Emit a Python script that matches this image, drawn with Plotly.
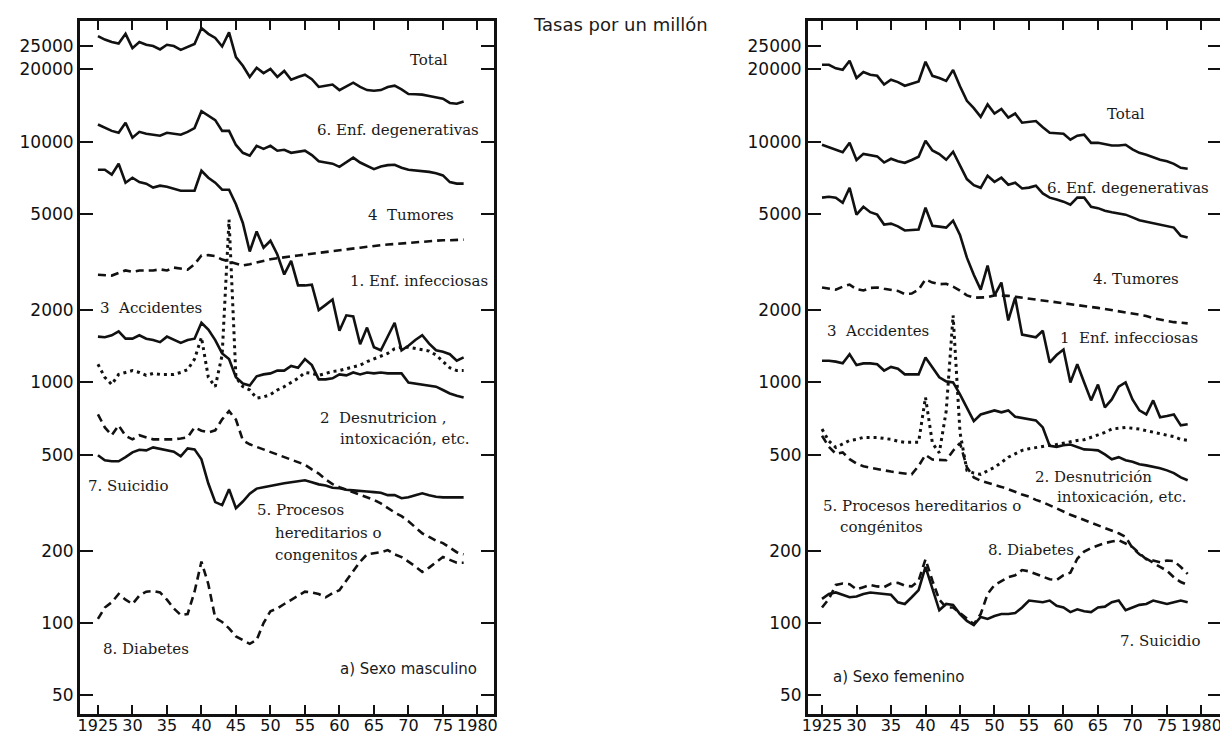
import plotly.graph_objects as go

W, H = 1228, 733

years = list(range(1925, 1979))

# ---------------- a) Sexo masculino ----------------
tot_m = [27500, 26600, 26000, 25600, 28100, 24500, 26000, 25300, 25000, 24200,
         25300, 25000, 24100, 24800, 25500, 29700, 28100, 27000, 24900, 28500,
         22500, 20700, 18600, 20300, 19300, 20100, 18600, 19700, 18100, 18600,
         19000, 18200, 16900, 17100, 17300, 16400, 17000, 17600, 16900, 16400,
         16300, 16400, 16900, 17100, 16500, 15800, 15750, 15700, 15500, 15300,
         15100, 14500, 14400, 14700]
deg_m = [11800, 11400, 11100, 10900, 12000, 10400, 11000, 10800, 10700, 10600,
         10900, 10800, 10700, 11000, 11400, 13400, 12800, 12300, 11100, 11100,
         9700, 9000, 8750, 9620, 9350, 9620, 9180, 9260, 9000, 9100,
         9180, 8800, 8300, 8200, 8110, 7870, 8200, 8590, 8200, 7950,
         7700, 7900, 8000, 8030, 7800, 7650, 7600, 7580, 7500, 7400,
         7250, 6800, 6700, 6700]
inf_m = [7650, 7650, 7300, 8100, 6760, 7090, 6800, 6700, 6450, 6570,
         6500, 6400, 6260, 6260, 6260, 7580, 7090, 6760, 6320, 6320,
         5500, 4600, 3500, 4240, 3630, 3880, 3400, 2810, 3200, 2530,
         2530, 2550, 2000, 2100, 2210, 1640, 1900, 1880, 1440, 1690,
         1400, 1360, 1540, 1770, 1360, 1420, 1500, 1570, 1450, 1360,
         1340, 1310, 1230, 1270]
tum_m = [2800, 2800, 2780, 2850, 2920, 2880, 2920, 2920, 2920, 2950,
         2920, 3000, 2980, 2940, 3100, 3370, 3380, 3350, 3240, 3180,
         3120, 3060, 3100, 3150, 3210, 3250, 3280, 3300, 3340, 3370,
         3400, 3420, 3450, 3480, 3520, 3560, 3580, 3600, 3630, 3660,
         3700, 3720, 3740, 3760, 3800, 3820, 3840, 3860, 3880, 3880,
         3900, 3900, 3920, 3920]
acc_m = [1550, 1540, 1570, 1630, 1520, 1520, 1570, 1520, 1500, 1470,
         1550, 1510, 1460, 1500, 1520, 1770, 1660, 1500, 1320, 1250,
         1050, 990, 970, 1060, 1080, 1090, 1120, 1120, 1170, 1150,
         1250, 1180, 1030, 1030, 1040, 1080, 1070, 1100, 1080, 1100,
         1090, 1100, 1090, 1090, 1090, 1000, 990, 980, 970, 960,
         930, 900, 880, 866]
des_m = [1190, 1050, 980, 1080, 1100, 1120, 1100, 1070, 1090, 1080,
         1080, 1080, 1100, 1130, 1250, 1540, 1050, 960, 1300, 4750,
         1050, 960, 930, 860, 870, 890, 930, 960, 1000, 1040,
         1100, 1090, 1070, 1090, 1110, 1120, 1140, 1160, 1180, 1220,
         1250, 1280, 1320, 1380, 1400, 1400, 1380, 1370, 1350, 1300,
         1220, 1150, 1120, 1120]
her_m = [736, 650, 603, 663, 600, 580, 603, 590, 580, 580,
         580, 580, 585, 591, 650, 630, 620, 632, 702, 760,
         700, 575, 553, 540, 525, 515, 500, 489, 478, 468,
         455, 435, 418, 395, 378, 367, 358, 348, 340, 333,
         325, 314, 300, 288, 278, 265, 250, 236, 228, 220,
         215, 205, 197, 193]
sui_m = [498, 475, 470, 470, 489, 512, 525, 522, 537, 530,
         522, 515, 493, 532, 527, 479, 380, 318, 309, 360,
         300, 320, 345, 362, 367, 372, 378, 381, 385, 388,
         392, 385, 377, 373, 365, 363, 358, 356, 355, 352,
         350, 348, 340, 340, 330, 333, 340, 346, 340, 335,
         333, 333, 333, 333]
dia_m = [104, 116, 122, 132, 125, 120, 130, 135, 136, 134,
         125, 115, 108, 109, 135, 180, 145, 105, 101, 95,
         88, 85, 82, 85, 100, 112, 115, 120, 125, 130,
         135, 134, 132, 128, 133, 137, 150, 166, 180, 193,
         195, 197, 201, 193, 188, 180, 172, 163, 170, 179,
         188, 183, 178, 178]

# ---------------- a) Sexo femenino ----------------
tot_f = [20900, 20900, 20200, 19900, 21700, 18400, 19500, 19000, 18800, 17300,
         18100, 17700, 17100, 17400, 17800, 21500, 18800, 18400, 17900, 19900,
         17000, 14800, 13800, 12700, 14300, 13100, 13700, 12600, 13100, 12000,
         12100, 12200, 11500, 10900, 10850, 10800, 10200, 10600, 10700, 9900,
         9900, 9750, 9650, 9650, 9720, 9300, 9000, 8830, 8600, 8420,
         8300, 8100, 7800, 7730]
deg_f = [9720, 9500, 9300, 9050, 9900, 8400, 8910, 8800, 8700, 8200,
         8500, 8300, 8180, 8400, 8670, 10100, 9200, 8900, 8420, 9090,
         8000, 7000, 6600, 6440, 7230, 6820, 7090, 6630, 6760, 6400,
         6450, 6570, 6100, 5860, 5750, 5640, 5480, 5860, 5860, 5370,
         5300, 5170, 5100, 5050, 4980, 4850, 4720, 4650, 4580, 4530,
         4450, 4400, 4070, 4000]
inf_f = [5860, 5910, 5860, 5580, 6440, 4980, 5370, 5100, 4980, 4530,
         4570, 4450, 4280, 4300, 4320, 5320, 4480, 4440, 4400, 4700,
         4100, 3300, 2800, 2430, 3060, 2300, 2600, 1810, 2250, 1580,
         1560, 1540, 1640, 1210, 1300, 1370, 1000, 1190, 1000, 842,
         980, 787, 850, 960, 1000, 850, 765, 736, 842, 716,
         725, 736, 663, 670]
tum_f = [2480, 2450, 2430, 2500, 2550, 2440, 2410, 2470, 2480, 2450,
         2430, 2400, 2330, 2340, 2430, 2680, 2600, 2560, 2570, 2500,
         2410, 2300, 2250, 2250, 2260, 2300, 2300, 2290, 2270, 2250,
         2240, 2220, 2200, 2180, 2160, 2140, 2120, 2100, 2090, 2060,
         2040, 2020, 2000, 1980, 1960, 1940, 1920, 1890, 1850, 1820,
         1800, 1780, 1770, 1760]
acc_f = [1230, 1230, 1220, 1200, 1310, 1180, 1200, 1200, 1190, 1120,
         1160, 1140, 1080, 1080, 1080, 1270, 1150, 1050, 1010, 1000,
         892, 787, 690, 736, 751, 765, 751, 765, 720, 710,
         702, 695, 650, 545, 540, 548, 552, 540, 527, 525,
         522, 502, 479, 489, 475, 468, 457, 452, 446, 440,
         431, 420, 403, 392]
des_f = [640, 570, 537, 555, 574, 580, 591, 591, 591, 585,
         580, 570, 564, 564, 564, 867, 560, 510, 760, 1900,
         620, 431, 420, 415, 430, 444, 465, 489, 505, 522,
         530, 537, 542, 548, 552, 560, 568, 574, 578, 590,
         605, 620, 640, 645, 650, 645, 640, 630, 620, 610,
         603, 595, 580, 574]
her_f = [600, 540, 505, 512, 480, 460, 448, 442, 436, 430,
         426, 422, 418, 415, 450, 500, 478, 475, 475, 520,
         560, 444, 403, 390, 383, 377, 368, 360, 350, 342,
         335, 325, 318, 308, 300, 290, 282, 275, 268, 261,
         255, 249, 243, 236, 228, 205, 193, 185, 178, 171,
         165, 155, 148, 144]
sui_f = [126, 132, 134, 131, 128, 129, 132, 134, 133, 132,
         131, 122, 120, 128, 137, 171, 140, 113, 120, 119,
         109, 102, 98, 106, 104, 107, 109, 109, 110, 116,
         124, 123, 122, 124, 118, 116, 111, 114, 112, 111,
         116, 117, 122, 124, 113, 116, 119, 120, 124, 122,
         120, 122, 124, 122]
dia_f = [116, 126, 144, 146, 145, 138, 141, 144, 142, 141,
         146, 147, 143, 142, 150, 184, 150, 125, 116, 116,
         110, 104, 99, 109, 132, 144, 149, 155, 158, 166,
         164, 160, 155, 152, 151, 158, 162, 185, 198, 205,
         210, 215, 218, 221, 214, 207, 195, 184, 182, 179,
         182, 181, 171, 160]

x_tick_vals = [1925, 1930, 1935, 1940, 1945, 1950, 1955, 1960, 1965, 1970, 1975, 1980]
x_tick_text = ["1925", "30", "35", "40", "45", "50", "55",
               "60", "65", "70", "75", "1980"]
y_tick_vals = [50, 100, 200, 500, 1000, 2000, 5000, 10000, 20000, 25000]
y_tick_text = ["50", "100", "200", "500", "1000", "2000", "5000", "10000", "20000", "25000"]

# ---------------- figure ----------------
DASH = "8px,5px"
DOT = "3px,4px"

panels = [
    ("x", "y", [(tot_m, "solid", "Total"), (deg_m, "solid", "6. Enf. degenerativas"),
                (inf_m, "solid", "1. Enf. infecciosas"), (tum_m, DASH, "4. Tumores"),
                (acc_m, "solid", "3. Accidentes"), (des_m, DOT, "2. Desnutrición"),
                (her_m, DASH, "5. Procesos hereditarios"), (sui_m, "solid", "7. Suicidio"),
                (dia_m, DASH, "8. Diabetes")]),
    ("x2", "y2", [(tot_f, "solid", "Total"), (deg_f, "solid", "6. Enf. degenerativas"),
                  (inf_f, "solid", "1. Enf. infecciosas"), (tum_f, DASH, "4. Tumores"),
                  (acc_f, "solid", "3. Accidentes"), (des_f, DOT, "2. Desnutrición"),
                  (her_f, DASH, "5. Procesos hereditarios"), (sui_f, "solid", "7. Suicidio"),
                  (dia_f, DASH, "8. Diabetes")]),
]

fig = go.Figure()
for xa, ya, series in panels:
    for vals, dash, name in series:
        fig.add_trace(go.Scatter(
            x=years, y=vals, mode="lines", name=name, showlegend=False,
            xaxis=xa, yaxis=ya,
            line=dict(color="#111111", width=3.0 if dash == DOT else 2.6, dash=dash)))

common = dict(showline=True, linecolor="#111111", linewidth=3, mirror="ticks",
              ticks="inside", tickcolor="#111111", tickwidth=2, showgrid=False,
              zeroline=False, automargin=False, fixedrange=True)

xcommon = dict(common, tickmode="array", tickvals=x_tick_vals, ticktext=x_tick_text,
               ticklen=9, tickangle=0, ticklabelstandoff=-5,
               tickfont=dict(family="DejaVu Sans", size=16, color="#111111"))
ycommon = dict(common, type="log", range=[1.622, 4.502], tickmode="array",
               tickvals=y_tick_vals, ticktext=y_tick_text, ticklen=13,
               tickfont=dict(family="DejaVu Sans", size=17, color="#111111"))

y_dom = [1 - 706 / H, 1 - 13 / H]

def ann(text, px, py, family="DejaVu Serif", size=15):
    return dict(text=text, x=px / W, y=1 - py / H, xref="paper", yref="paper",
                xanchor="left", yanchor="middle", showarrow=False,
                font=dict(family=family, size=size, color="#1a1a1a"))

labels = [
    ("Total", 400, 52), ("6. Enf. degenerativas", 307, 122), ("4  Tumores", 358, 207),
    ("1. Enf. infecciosas", 340, 273), ("3  Accidentes", 90, 300),
    ("2  Desnutricion ,", 310, 410), ("intoxicación, etc.", 330, 431),
    ("7. Suicidio", 78, 478), ("5. Procesos", 247, 502), ("hereditarios o", 265, 525),
    ("congenitos", 265, 547), ("8. Diabetes", 93, 641),
    ("Total", 1097, 106), ("6. Enf. degenerativas", 1037, 180), ("4. Tumores", 1083, 271),
    ("3  Accidentes", 817, 323), ("1  Enf. infecciosas", 1050, 330),
    ("2. Desnutrición", 1025, 469), ("intoxicación, etc.", 1047, 489),
    ("5. Procesos hereditarios o", 813, 498), ("congénitos", 830, 519),
    ("8. Diabetes", 978, 542), ("7. Suicidio", 1110, 633),
]
annotations = [ann(t, x, y) for t, x, y in labels]
annotations += [
    ann("a) Sexo masculino", 330, 661, family="DejaVu Sans", size=15),
    ann("a) Sexo femenino", 823, 669, family="DejaVu Sans", size=15),
    ann("Tasas por un millón", 523, 16, family="DejaVu Sans", size=18),
]

fig.update_layout(
    width=W, height=H, margin=dict(l=0, r=0, t=0, b=0),
    paper_bgcolor="white", plot_bgcolor="white", showlegend=False,
    xaxis=dict(xcommon, domain=[72 / W, 486 / W], range=[1922.4, 1982.4], anchor="y"),
    yaxis=dict(ycommon, domain=y_dom, anchor="x"),
    xaxis2=dict(xcommon, domain=[800 / W, 1213 / W], range=[1922.97, 1982.83], anchor="y2"),
    yaxis2=dict(ycommon, domain=y_dom, anchor="x2"),
    annotations=annotations,
)

fig.write_html("out.html")
